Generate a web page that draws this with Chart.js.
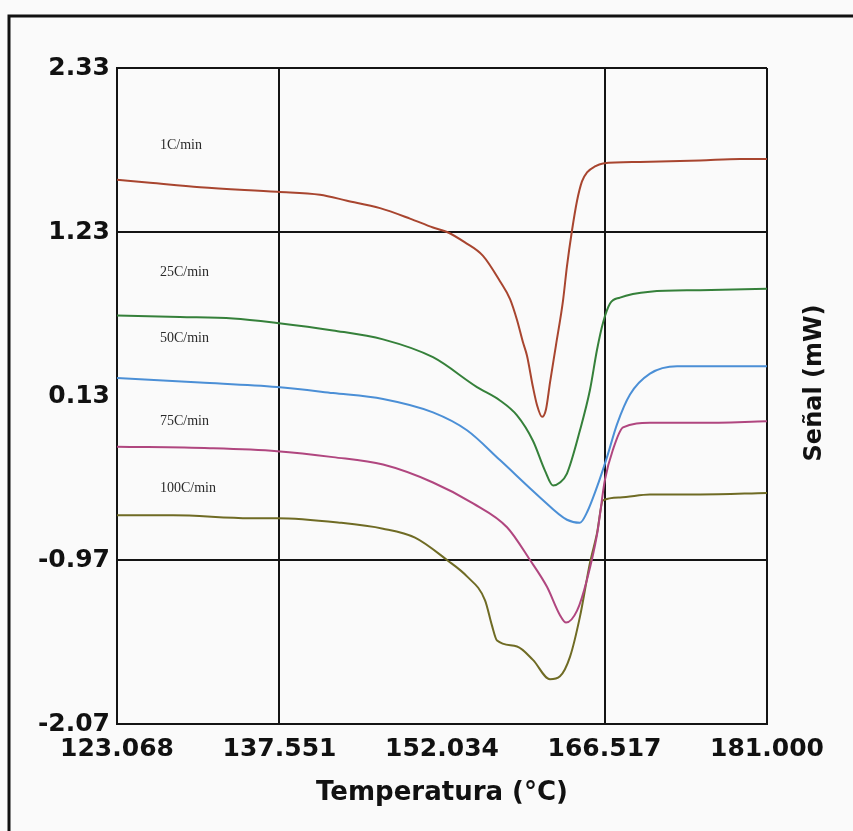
<!DOCTYPE html>
<html>
<head>
<meta charset="utf-8">
<script src="https://cdn.jsdelivr.net/npm/chart.js@4"></script>
<style>
  html, body { margin: 0; padding: 0; background: #fafafa; }
  #wrap { width: 853px; height: 831px; position: relative; }
</style>
</head>
<body>
<div id="wrap"><canvas id="dscChart"></canvas></div>
<script>
// tick values / labels
const xTicks = [123.068, 137.551, 152.034, 166.517, 181.0];
const xTickLabels = ["123.068", "137.551", "152.034", "166.517", "181.000"];
const yTicks = [2.33, 1.23, 0.13, -0.97, -2.07];
const yTickLabels = ["2.33", "1.23", "0.13", "-0.97", "-2.07"];

const seriesNames = ["1C/min", "25C/min", "50C/min", "75C/min", "100C/min"];

// 1C/min
const temp1 = [123.07, 126.01, 130.47, 137.33, 141.16, 143.57, 146.51, 149.18, 151.23, 152.48, 154.08, 155.69, 157.20, 158.10, 158.72, 159.25, 159.61, 160.14, 160.50, 160.95, 161.30, 161.66, 162.19, 162.82, 163.17, 163.62, 164.07, 164.51, 164.96, 165.67, 166.38, 169.68, 175.03, 178.60, 181.00];
const signal1 = [1.58, 1.56, 1.53, 1.50, 1.48, 1.44, 1.39, 1.32, 1.26, 1.23, 1.16, 1.07, 0.90, 0.78, 0.64, 0.49, 0.40, 0.19, 0.07, -0.01, 0.04, 0.22, 0.47, 0.77, 1.00, 1.24, 1.44, 1.57, 1.63, 1.67, 1.69, 1.70, 1.71, 1.72, 1.72];
// 25C/min
const temp2 = [123.07, 128.68, 133.41, 137.33, 142.32, 146.78, 151.23, 155.15, 157.20, 158.72, 160.14, 161.21, 161.93, 162.55, 163.17, 164.33, 165.22, 165.85, 166.38, 167.01, 167.90, 170.57, 175.03, 181.00];
const signal2 = [0.67, 0.66, 0.65, 0.62, 0.57, 0.51, 0.39, 0.19, 0.10, 0.00, -0.17, -0.37, -0.47, -0.45, -0.39, -0.10, 0.17, 0.44, 0.62, 0.75, 0.79, 0.83, 0.84, 0.85];
// 50C/min
const temp3 = [123.07, 130.47, 137.33, 142.32, 146.78, 151.23, 154.26, 157.20, 160.77, 163.17, 164.33, 164.96, 165.85, 166.74, 167.63, 168.79, 170.57, 172.98, 181.00];
const signal3 = [0.25, 0.22, 0.19, 0.15, 0.11, 0.02, -0.10, -0.30, -0.55, -0.70, -0.72, -0.65, -0.48, -0.28, -0.06, 0.14, 0.28, 0.33, 0.33];
// 75C/min
const temp4 = [123.07, 131.36, 137.33, 142.32, 146.78, 151.23, 154.80, 157.83, 159.88, 161.39, 162.55, 163.09, 164.07, 164.96, 165.85, 166.56, 167.27, 168.17, 170.57, 175.03, 181.00];
const signal4 = [-0.21, -0.22, -0.24, -0.28, -0.33, -0.45, -0.59, -0.75, -0.97, -1.15, -1.34, -1.39, -1.31, -1.10, -0.80, -0.43, -0.23, -0.08, -0.05, -0.05, -0.04];
// 100C/min
const temp5 = [123.07, 128.06, 134.92, 137.33, 142.94, 146.78, 149.63, 152.48, 154.26, 155.87, 156.49, 156.94, 158.72, 160.14, 161.66, 162.55, 163.44, 164.33, 165.22, 165.85, 166.38, 167.90, 170.57, 175.03, 181.00];
const signal5 = [-0.67, -0.67, -0.69, -0.69, -0.72, -0.76, -0.82, -0.97, -1.08, -1.24, -1.41, -1.51, -1.55, -1.64, -1.77, -1.75, -1.62, -1.35, -0.99, -0.79, -0.57, -0.55, -0.53, -0.53, -0.52];

const temps = [temp1, temp2, temp3, temp4, temp5];
const signals = [signal1, signal2, signal3, signal4, signal5];
const colors = ["#a8452f", "#35803a", "#4b8fd6", "#b0467f", "#6f6b24"];

// where the rate labels sit (data coords)
const nameAnchors = [[126.9, 1.81], [126.9, 0.96], [126.9, 0.52], [126.9, -0.04], [126.9, -0.49]];

const datasets = seriesNames.map(function (name, i) {
  return {
    label: name,
    data: temps[i].map(function (t, j) { return { x: t, y: signals[i][j] }; }),
    borderColor: colors[i],
    borderWidth: 2,
    pointRadius: 0,
    fill: false,
    cubicInterpolationMode: "monotone",
  };
});

const gridColor = function (ctx) {
  return ctx.index === 2 ? "rgba(0,0,0,0)" : "#141414";
};

const decor = {
  id: "decor",
  beforeDraw(chart) {
    const c = chart.ctx;
    c.save();
    c.fillStyle = "#fafafa";
    c.fillRect(0, 0, chart.width, chart.height);
    c.strokeStyle = "#111";
    c.lineWidth = 3;
    c.strokeRect(9, 16, chart.width + 20, chart.height + 20);
    c.restore();
  },
  afterDatasetsDraw(chart) {
    const c = chart.ctx;
    const xs = chart.scales.x, ys = chart.scales.y;
    c.save();
    c.fillStyle = "#2a2a2a";
    c.font = "14px 'Liberation Serif', serif";
    c.textBaseline = "middle";
    c.textAlign = "left";
    seriesNames.forEach(function (name, i) {
      c.fillText(name, xs.getPixelForValue(nameAnchors[i][0]), ys.getPixelForValue(nameAnchors[i][1]));
    });
    // right-hand axis title
    c.translate(815, 383);
    c.rotate(-Math.PI / 2);
    c.fillStyle = "#111";
    c.font = "bold 24px 'DejaVu Sans', sans-serif";
    c.textAlign = "center";
    c.fillText("Señal (mW)", 0, 0);
    c.restore();
  },
};

new Chart(document.getElementById("dscChart"), {
  type: "line",
  data: { datasets: datasets },
  plugins: [decor],
  options: {
    responsive: true,
    maintainAspectRatio: false,
    animation: false,
    layout: { padding: { left: 0, top: 68, right: 86, bottom: 0 } },
    plugins: { legend: { display: false }, tooltip: { enabled: false } },
    scales: {
      x: {
        type: "linear",
        min: 123.068,
        max: 181.0,
        afterBuildTicks: function (axis) { axis.ticks = xTicks.map(function (v) { return { value: v }; }); },
        afterFit: function (axis) { axis.height = 107; },
        grid: { color: gridColor, lineWidth: 2, drawTicks: false },
        border: { display: true, color: "#141414", width: 2 },
        ticks: {
          autoSkip: false,
          maxRotation: 0,
          padding: 10,
          color: "#111",
          font: { family: "'DejaVu Sans', sans-serif", size: 25, weight: "bold" },
          callback: function (v, i) { return xTickLabels[i]; },
        },
        title: {
          display: true,
          text: "Temperatura (°C)",
          color: "#111",
          font: { family: "'DejaVu Sans', sans-serif", size: 26, weight: "bold" },
          padding: { top: 0, bottom: 22 },
        },
      },
      y: {
        type: "linear",
        min: -2.07,
        max: 2.33,
        afterBuildTicks: function (axis) { axis.ticks = yTicks.map(function (v) { return { value: v }; }); },
        afterFit: function (axis) { axis.width = 117; },
        grid: { color: gridColor, lineWidth: 2, drawTicks: false },
        border: { display: true, color: "#141414", width: 2 },
        ticks: {
          autoSkip: false,
          padding: 7,
          color: "#111",
          font: { family: "'DejaVu Sans', sans-serif", size: 25, weight: "bold" },
          callback: function (v, i) { return yTickLabels[i]; },
        },
      },
    },
  },
});
</script>
</body>
</html>
